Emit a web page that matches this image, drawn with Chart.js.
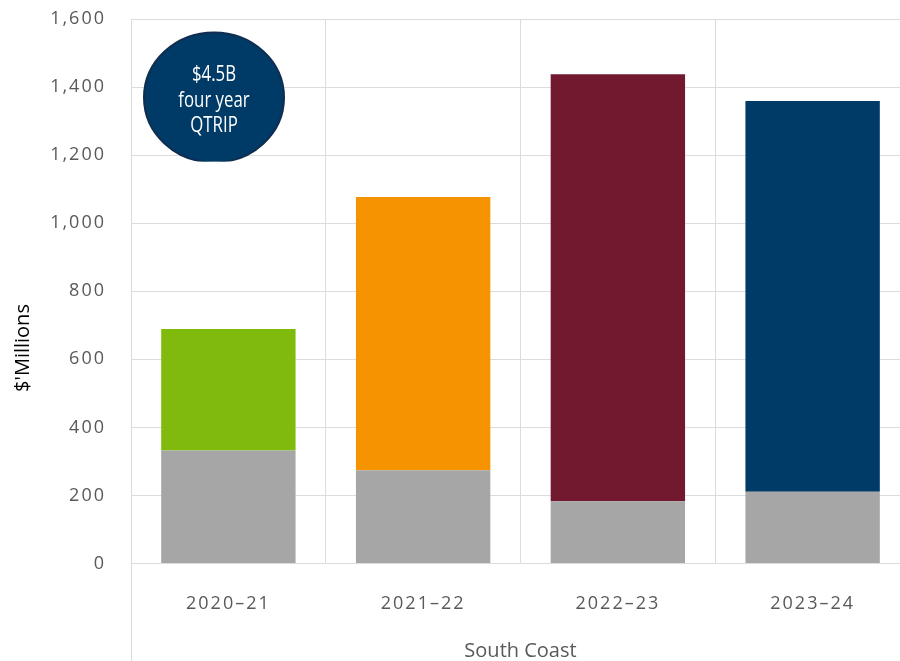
<!DOCTYPE html>
<html>
<head>
<meta charset="utf-8">
<script src="https://cdn.jsdelivr.net/npm/chart.js@4.4.1/dist/chart.umd.min.js"></script>
<style>
  html, body { margin: 0; padding: 0; background: #fff; overflow: hidden; }
  #wrap { width: 910px; height: 661px; position: relative; }
</style>
</head>
<body>
<div id="wrap"><canvas id="chart"></canvas></div>
<script>
// categories along the bottom
const categories = ["2020\u201321", "2021\u201322", "2022\u201323", "2023\u201324"];
// grey part of each bar ($'Millions)
const baseValues = [332, 274, 183, 211];
// coloured part stacked on top
const topValues = [357, 803, 1255, 1148];
// colour of the top piece for each year
const topColors = ["#7fba0c", "#f59300", "#721930", "#003a66"];
// y axis ticks
const yTicks = [0, 200, 400, 600, 800, 1000, 1200, 1400, 1600];

const gridColor = "#dcdcdc";
const tickFont = "'Open Sans', sans-serif";

//draws the axis titles, the long left line and the round badge
const extras = {
  id: "extras",
  beforeDraw(chart) {
    chart.ctx.letterSpacing = "2px";
  },
  afterDraw(chart) {
    const { ctx, chartArea } = chart;
    ctx.save();
    ctx.letterSpacing = "0px";

    // left line runs down past the labels
    ctx.strokeStyle = gridColor;
    ctx.lineWidth = 1;
    ctx.beginPath();
    ctx.moveTo(chartArea.left + 0.5, chartArea.bottom);
    ctx.lineTo(chartArea.left + 0.5, chart.height);
    ctx.stroke();

    // y title
    ctx.save();
    ctx.translate(23, 348);
    ctx.rotate(-Math.PI / 2);
    ctx.fillStyle = "#000";
    ctx.font = "20px 'Open Sans', sans-serif";
    ctx.textAlign = "center";
    ctx.textBaseline = "middle";
    ctx.fillText("$'Millions", 0, 0);
    ctx.restore();

    // x title
    ctx.fillStyle = "#595959";
    ctx.font = "20px 'Open Sans', sans-serif";
    ctx.textAlign = "center";
    ctx.textBaseline = "middle";
    ctx.fillText("South Coast", (chartArea.left + chartArea.right) / 2, 651);

    // badge
    const cx = chartArea.left + 83;
    const cy = chartArea.top + 78.5;
    ctx.save();
    ctx.beginPath();
    ctx.rect(cx - 80, cy - 80, 160, 80 + 64);
    ctx.clip();
    ctx.beginPath();
    ctx.ellipse(cx, cy, 70, 65, 0, 0, Math.PI * 2);
    ctx.fillStyle = "#003a66";
    ctx.fill();
    ctx.lineWidth = 2;
    ctx.strokeStyle = "#0f2d50";
    ctx.stroke();
    ctx.restore();

    // condensed white text
    ctx.save();
    ctx.translate(cx, cy);
    ctx.scale(0.8, 1);
    ctx.fillStyle = "#fff";
    ctx.font = "21px 'Open Sans', sans-serif";
    ctx.textAlign = "center";
    ctx.textBaseline = "middle";
    ctx.fillText("$4.5B", 0, -22);
    ctx.fillText("four year", 0, 4);
    ctx.fillText("QTRIP", 0, 29);
    ctx.restore();
    ctx.restore();
  },
};

new Chart(document.getElementById("chart"), {
  type: "bar",
  plugins: [extras],
  data: {
    labels: categories,
    datasets: [
      {
        data: baseValues,
        backgroundColor: "#a6a6a6",
        borderWidth: 0,
      },
      {
        data: topValues,
        backgroundColor: topColors,
        borderWidth: 0,
      },
    ],
  },
  options: {
    responsive: true,
    maintainAspectRatio: false,
    animation: false,
    layout: { padding: { top: 19, left: 0, right: 0, bottom: 0 } },
    datasets: {
      bar: { categoryPercentage: 1, barPercentage: 0.69 },
    },
    plugins: {
      legend: { display: false },
      tooltip: { enabled: false },
    },
    scales: {
      x: {
        stacked: true,
        afterFit: (scale) => {
          scale.height = 97.5;
          scale.paddingLeft = 0;
          scale.paddingRight = 0;
        },
        grid: { color: gridColor, drawTicks: false, offset: true },
        border: { color: gridColor },
        ticks: {
          color: "#595959",
          padding: 30,
          font: { family: tickFont, size: 18 },
        },
      },
      y: {
        stacked: true,
        min: 0,
        max: 1600,
        afterFit: (scale) => {
          scale.width = 131;
          scale.paddingTop = 0;
          scale.paddingBottom = 0;
        },
        afterBuildTicks: (scale) => { scale.ticks = yTicks.map((v) => ({ value: v })); },
        grid: { color: gridColor, drawTicks: false },
        border: { display: false },
        ticks: {
          color: "#595959",
          padding: 25,
          font: { family: tickFont, size: 18 },
          callback: (v) => v.toLocaleString("en-US"),
        },
      },
    },
  },
});
</script>
</body>
</html>
